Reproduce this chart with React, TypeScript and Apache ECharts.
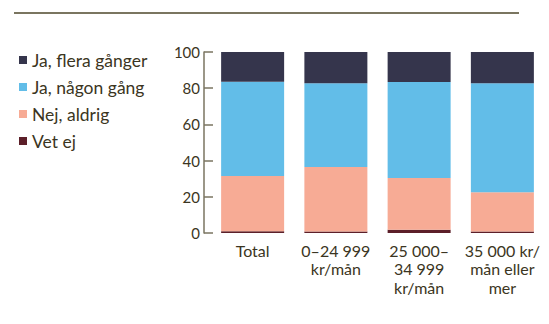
import React, { useEffect, useRef } from "react";
import * as echarts from "echarts";

const categories = ["Total", "0–24 999\nkr/mån", "25 000–\n34 999\nkr/mån", "35 000 kr/\nmån eller\nmer"];
const vetEj = [1, 0.8, 1.8, 0.8];
const nejAldrig = [30.5, 35.6, 28.6, 21.7];
const jaNagonGang = [52, 46.4, 53, 60.3];
const jaFleraGanger = [16.5, 17.2, 16.6, 17.2];
const yTicks = [0, 20, 40, 60, 80, 100];

const textColor = "#3b3522";
const axisColor = "#7a7560";
const fontFamily = "Lato, 'Noto Sans', sans-serif";

export default function App() {
  const ref = useRef<HTMLDivElement>(null);
  useEffect(() => {
    const chart = echarts.init(ref.current!, null, { renderer: "svg" });
    const mk = (name: string, data: number[], color: string) => ({
      name,
      type: "bar",
      stack: "s",
      data,
      barWidth: 63,
      itemStyle: { color },
      emphasis: { disabled: true },
    });
    chart.setOption({
      animation: false,
      graphic: [
        {
          type: "line",
          shape: { x1: 14, y1: 13, x2: 519, y2: 13 },
          style: { stroke: axisColor, lineWidth: 2 },
        },
      ],
      legend: {
        orient: "vertical",
        left: 14,
        top: 46,
        itemWidth: 8,
        itemHeight: 8,
        itemGap: 9,
        icon: "rect",
        data: ["Ja, flera gånger", "Ja, någon gång", "Nej, aldrig", "Vet ej"],
        textStyle: { color: textColor, fontSize: 17.5, fontFamily, padding: [0, 0, 0, 0], lineHeight: 17 },
      },
      grid: { left: 211, right: 5, top: 52, bottom: 91 },
      xAxis: {
        type: "category",
        data: categories,
        axisLine: { show: false },
        axisTick: { show: false },
        axisLabel: {
          interval: 0,
          color: textColor,
          fontSize: 16,
          lineHeight: 18.5,
          margin: 8,
          fontFamily,
        },
      },
      yAxis: {
        type: "value",
        min: 0,
        max: 100,
        interval: 20,
        offset: 7,
        splitLine: { show: false },
        axisLine: { show: true, lineStyle: { color: axisColor, width: 1.5 } },
        axisTick: { show: true, inside: true, length: 9, lineStyle: { color: axisColor, width: 1.5 } },
        axisLabel: {
          color: textColor,
          fontSize: 15,
          margin: 4,
          fontFamily,
          formatter: (v: number) => (yTicks.includes(v) ? String(v) : ""),
        },
      },
      series: [
        mk("Vet ej", vetEj, "#5c1f29"),
        mk("Nej, aldrig", nejAldrig, "#f7ab95"),
        mk("Ja, någon gång", jaNagonGang, "#62bde8"),
        mk("Ja, flera gånger", jaFleraGanger, "#35354c"),
      ],
    });
    return () => chart.dispose();
  }, []);
  return <div ref={ref} style={{ width: 549, height: 324, margin: -8 }} />;
}
